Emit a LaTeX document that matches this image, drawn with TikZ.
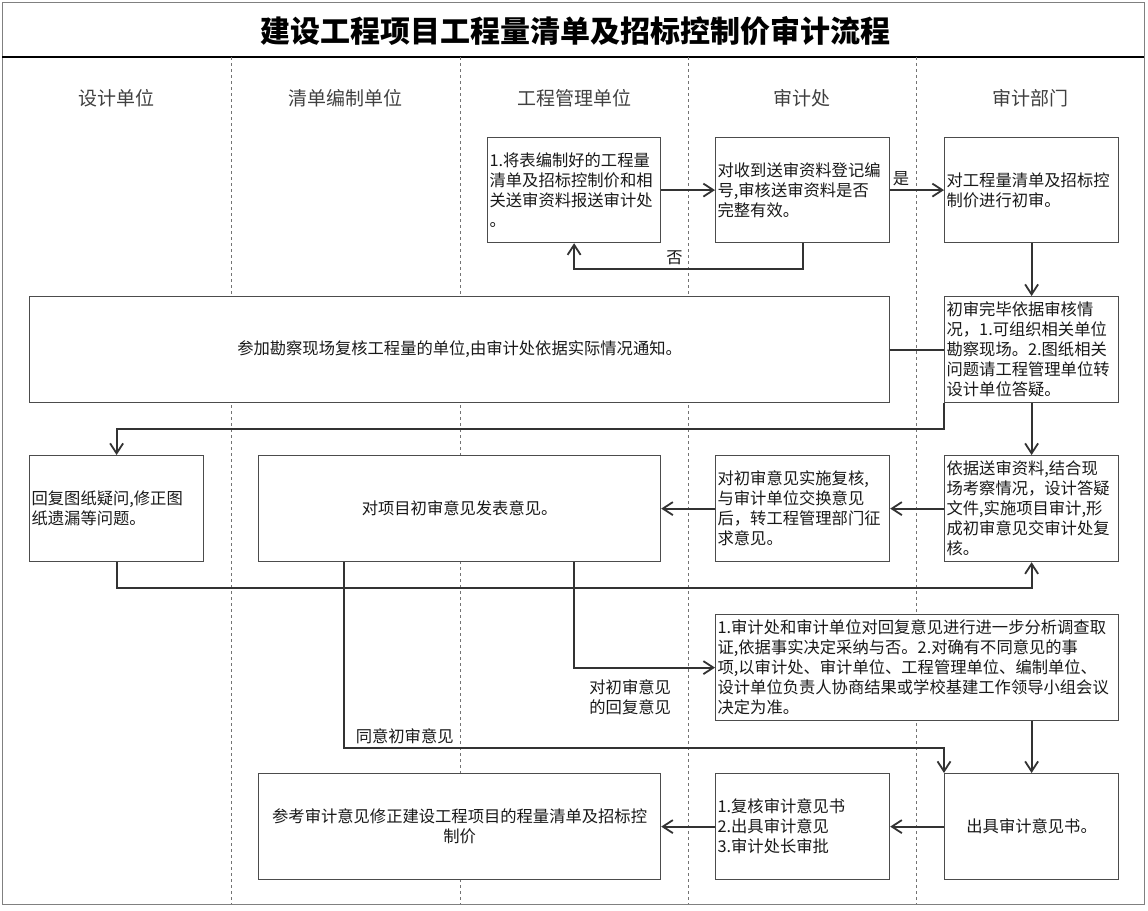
\documentclass[tikz,border=0pt]{standalone}
\usepackage{fontspec}
\setmainfont{Noto Sans CJK SC}
\usetikzlibrary{arrows.meta}

\begin{document}
\begin{tikzpicture}[x=1pt, y=-1pt,
        >={Straight Barb[length=10pt,width=13pt]},
        box/.style={draw=black!70, fill=white, line width=1.2pt, anchor=north west, inner sep=2pt, align=left, font=\fontsize{16.3}{20}\selectfont, text=black!90},
        flow/.style={draw=black!80, line width=1.8pt},
        lane/.style={draw=black!55, dashed, line width=0.8pt},
        head/.style={font=\fontsize{19}{22}\selectfont, text=black!75},
        tag/.style={font=\fontsize{16.3}{20}\selectfont, text=black!90}]
        \useasboundingbox (0,0) rectangle (1148,910);

        % Frame and lanes
        \draw[black!50, line width=1pt] (2,2) rectangle (1144,904);
        \draw[black, line width=1.2pt] (2,57) -- (1144,57);
        \draw[lane] (231,57) -- (231,904);
        \draw[lane] (460,57) -- (460,904);
        \draw[lane] (688,57) -- (688,904);
        \draw[lane] (916,57) -- (916,904);

        % Title and lane headers
        \node[font=\fontsize{30}{34}\selectfont\bfseries] (title) at (575,31) {建设工程项目工程量清单及招标控制价审计流程};
        \node[head] (h1) at (116,98) {设计单位};
        \node[head] (h2) at (345,98) {清单编制单位};
        \node[head] (h3) at (574,98) {工程管理单位};
        \node[head] (h4) at (802,98) {审计处};
        \node[head] (h5) at (1030,98) {审计部门};

        % Define the nodes
        \node[box, text width=169, minimum height=105] (p1) at (487,137) {1.将表编制好的工程量\\清单及招标控制价和相\\关送审资料报送审计处\\。};
        \node[box, text width=170, minimum height=105] (r1) at (715,137) {对收到送审资料登记编\\号,审核送审资料是否\\完整有效。};
        \node[box, text width=170, minimum height=105] (a1) at (944,137) {对工程量清单及招标控\\制价进行初审。};
        \node[box, text width=856, minimum height=106, align=center] (site) at (29,296) {参加勘察现场复核工程量的单位,由审计处依据实际情况通知。};
        \node[box, text width=170, minimum height=106] (a2) at (944,296) {初审完毕依据审核情\\况，1.可组织相关单位\\勘察现场。2.图纸相关\\问题请工程管理单位转\\设计单位答疑。};
        \node[box, text width=170, minimum height=106] (d1) at (29,455) {回复图纸疑问,修正图\\纸遗漏等问题。};
        \node[box, text width=398, minimum height=106, align=center] (q1) at (258,455) {对项目初审意见发表意见。};
        \node[box, text width=170, minimum height=106] (r2) at (715,455) {对初审意见实施复核,\\与审计单位交换意见\\后，转工程管理部门征\\求意见。};
        \node[box, text width=170, minimum height=106] (a3) at (944,455) {依据送审资料,结合现\\场考察情况，设计答疑\\文件,实施项目审计,形\\成初审意见交审计处复\\核。};
        \node[box, text width=399, minimum height=106] (r3) at (715,614) {1.审计处和审计单位对回复意见进行进一步分析调查取\\证,依据事实决定采纳与否。2.对确有不同意见的事\\项,以审计处、审计单位、工程管理单位、编制单位、\\设计单位负责人协商结果或学校基建工作领导小组会议\\决定为准。};
        \node[box, text width=398, minimum height=106, align=center] (q2) at (258,773) {参考审计意见修正建设工程项目的程量清单及招标控\\制价};
        \node[box, text width=170, minimum height=106] (r4) at (715,773) {1.复核审计意见书\\2.出具审计意见\\3.审计处长审批};
        \node[box, text width=170, minimum height=106, align=center] (a4) at (944,773) {出具审计意见书。};

        % Draw the edges
        \draw[flow,->] (p1) -- (r1);
        \draw[flow,->] (r1) -- node[tag, pos=0.2, above] (yes) {是} (a1);
        \draw[flow,->] (r1.south) -- ++(0,26) -| node[tag, pos=0.28, above] (no) {否} (p1.south);
        \draw[flow,->] (a1) -- (a2);
        \draw[flow] (a2) -- (site);
        \draw[flow,->] (a2.south west) -- ++(0,26) -| (d1.north);
        \draw[flow,->] (a2) -- (a3);
        \draw[flow,->] (a3) -- (r2);
        \draw[flow,->] (r2) -- (q1);
        \draw[flow,->] (d1.south) -- ++(0,26) -| (a3.south);
        \draw[flow,->] ([xshift=114pt]q1.south) |- node[tag, pos=0.7, anchor=north, yshift=-8pt, align=center] (reply) {对初审意见\\的回复意见} (r3.west);
        \draw[flow,->] ([xshift=-116pt]q1.south) -- ++(0,186) node[tag, above right, xshift=8pt] (agree) {同意初审意见} -| (a4.north west);
        \draw[flow,->] (r3.south -| a4) -- (a4.north);
        \draw[flow,->] (a4) -- (r4);
        \draw[flow,->] (r4) -- (q2);
    \end{tikzpicture}
\end{document}
